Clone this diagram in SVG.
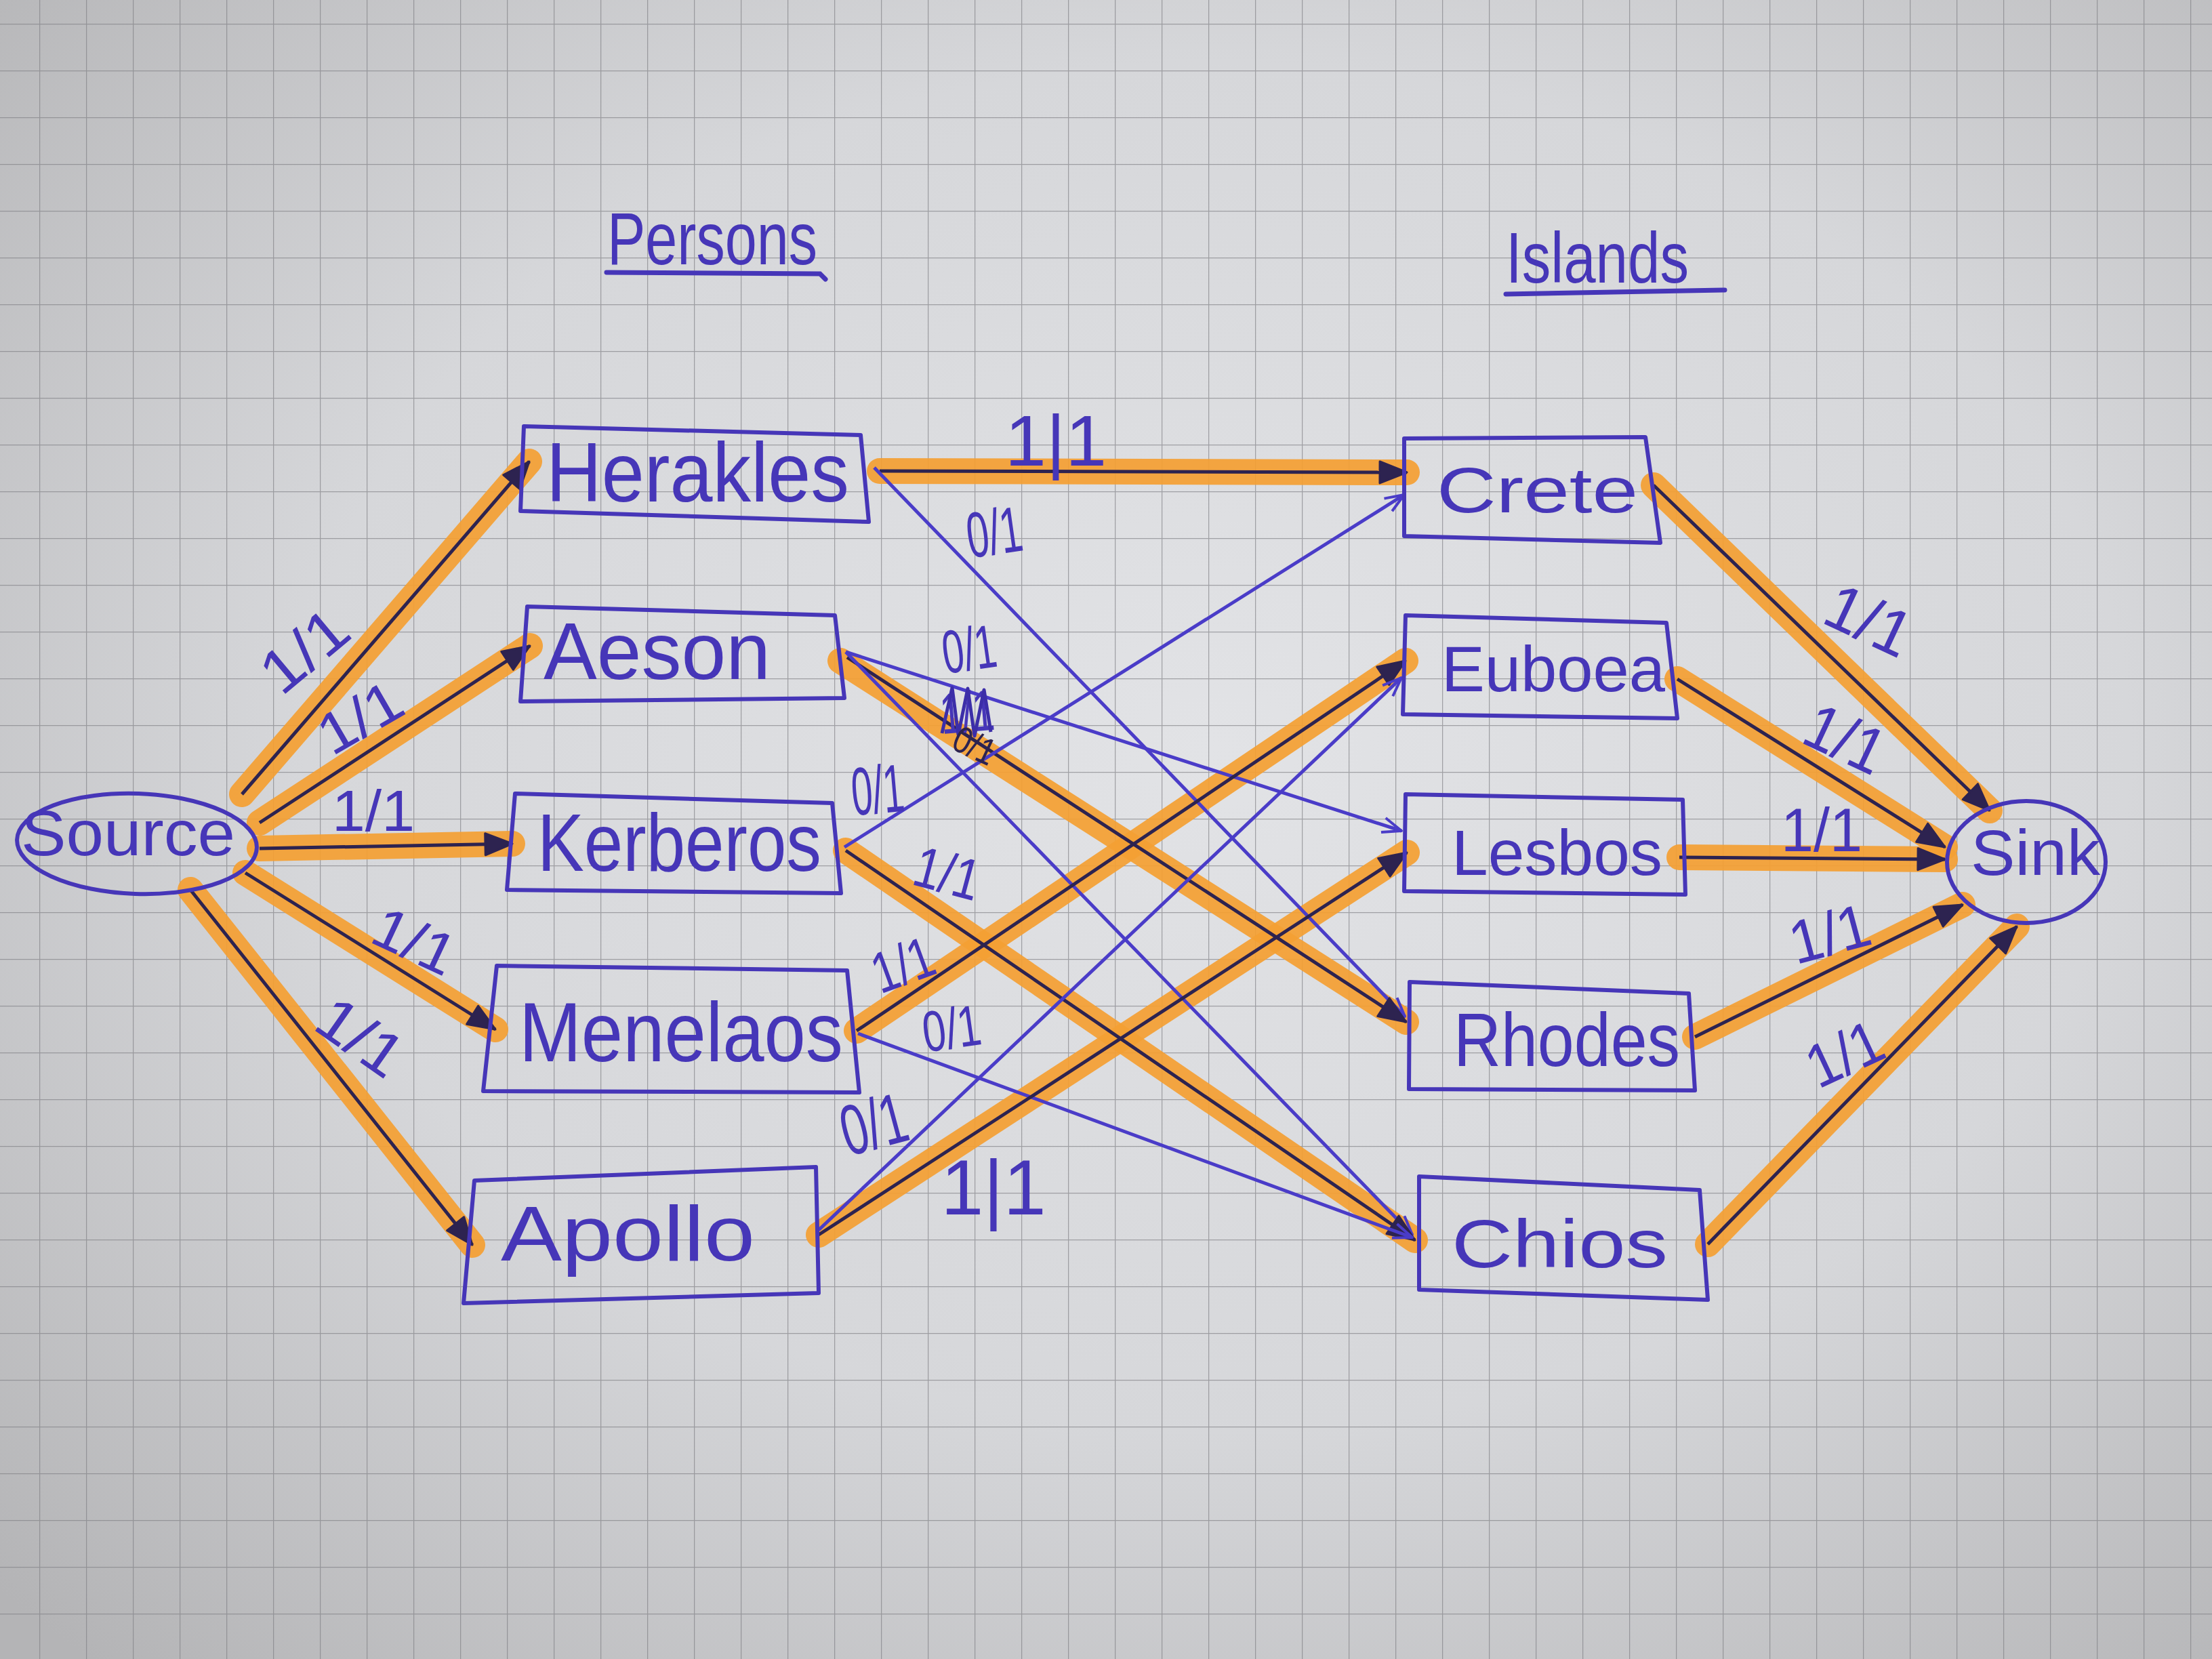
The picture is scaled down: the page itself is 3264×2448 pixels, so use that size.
<svg xmlns="http://www.w3.org/2000/svg" width="3264" height="2448" viewBox="0 0 3264 2448">
<defs>
<radialGradient id="paper" cx="0.55" cy="0.45" r="0.75">
<stop offset="0" stop-color="#e2e3e6"/>
<stop offset="0.55" stop-color="#d6d7da"/>
<stop offset="1" stop-color="#b4b4b6"/>
</radialGradient>
<pattern id="grid" patternUnits="userSpaceOnUse" x="58" y="35" width="69" height="69">
<path d="M0,0 L69,0 M0,0 L0,69" fill="none" stroke="#7e7e82" stroke-width="2.5" opacity="0.65"/>
</pattern>
<marker id="ah" markerUnits="userSpaceOnUse" markerWidth="46" markerHeight="40" refX="42" refY="18" orient="auto">
<path d="M2,2 L42,18 L2,34 Z" fill="#2d2350" stroke="#2d2350" stroke-width="3" stroke-linejoin="round"/>
</marker>
<marker id="ahb" markerUnits="userSpaceOnUse" markerWidth="34" markerHeight="30" refX="30" refY="13" orient="auto">
<path d="M2,2 L30,13 L2,24" fill="none" stroke="#4a3cc8" stroke-width="4" stroke-linejoin="round"/>
</marker>
</defs>
<style>
.box{fill:none;stroke:#4636b8;stroke-width:6;stroke-linejoin:round}
.nt{fill:#4636b8;font-family:"Liberation Sans","DejaVu Sans",sans-serif}
.title{fill:#4636b8;font-family:"Liberation Sans","DejaVu Sans",sans-serif}
.ul{fill:none;stroke:#4636b8;stroke-width:7;stroke-linecap:round}
.hl{stroke:#f5a033;stroke-width:38;stroke-linecap:round;opacity:0.92}
.ink{stroke:#2d2350;stroke-width:5;fill:none;marker-end:url(#ah)}
.thin{stroke:#4a3cc8;stroke-width:5;fill:none;marker-end:url(#ahb)}
.lbl{fill:#4636b8;font-family:"Liberation Sans","DejaVu Sans",sans-serif;text-anchor:middle}
.scr{fill:none;stroke:#3c2ea8;stroke-width:5;stroke-linejoin:round}
</style>
<rect x="0" y="0" width="3264" height="2448" fill="url(#paper)"/>
<rect x="0" y="0" width="3264" height="2448" fill="url(#grid)"/>

<g id="titles">
<text class="title" x="896" y="390" font-size="110" textLength="310" lengthAdjust="spacingAndGlyphs">Persons</text>
<path class="ul" d="M895,402 L1210,404 L1218,412"/>
<text class="title" x="2222" y="417" font-size="105" textLength="270" lengthAdjust="spacingAndGlyphs">Islands</text>
<path class="ul" d="M2222,434 L2545,428"/>
</g>

<g id="connectors">
<g id="highlights">
<line class="hl" x1="357" y1="1172" x2="781" y2="681"/>
<line class="hl" x1="383" y1="1214" x2="782" y2="953"/>
<line class="hl" x1="383" y1="1252" x2="756" y2="1245"/>
<line class="hl" x1="362" y1="1288" x2="731" y2="1519"/>
<line class="hl" x1="281" y1="1313" x2="697" y2="1837"/>
<line class="hl" x1="1298" y1="695" x2="2076" y2="697"/>
<line class="hl" x1="1240" y1="975" x2="2075" y2="1508"/>
<line class="hl" x1="1248" y1="1255" x2="2088" y2="1830"/>
<line class="hl" x1="1264" y1="1521" x2="2074" y2="975"/>
<line class="hl" x1="1208" y1="1822" x2="2076" y2="1258"/>
<line class="hl" x1="2440" y1="716" x2="2936" y2="1196"/>
<line class="hl" x1="2475" y1="1002" x2="2870" y2="1250"/>
<line class="hl" x1="2478" y1="1265" x2="2870" y2="1268"/>
<line class="hl" x1="2501" y1="1530" x2="2896" y2="1335"/>
<line class="hl" x1="2520" y1="1836" x2="2976" y2="1367"/>
</g>
<line class="ink" x1="357" y1="1172" x2="781" y2="681"/>
<line class="ink" x1="383" y1="1214" x2="782" y2="953"/>
<line class="ink" x1="383" y1="1252" x2="756" y2="1245"/>
<line class="ink" x1="362" y1="1288" x2="731" y2="1519"/>
<line class="ink" x1="281" y1="1313" x2="697" y2="1837"/>
<line class="ink" x1="1298" y1="695" x2="2076" y2="697"/>
<line class="thin" x1="1290" y1="690" x2="2073" y2="1500"/>
<line class="thin" x1="1248" y1="962" x2="2068" y2="1226"/>
<line class="ink" x1="1250" y1="970" x2="2075" y2="1508"/>
<line class="thin" x1="1248" y1="962" x2="2084" y2="1822"/>
<line class="thin" x1="1246" y1="1250" x2="2072" y2="730"/>
<line class="ink" x1="1248" y1="1255" x2="2088" y2="1830"/>
<line class="ink" x1="1264" y1="1521" x2="2074" y2="975"/>
<line class="thin" x1="1266" y1="1525" x2="2084" y2="1826"/>
<line class="ink" x1="1208" y1="1822" x2="2076" y2="1258"/>
<line class="thin" x1="1208" y1="1815" x2="2068" y2="1000"/>
<line class="ink" x1="2440" y1="716" x2="2936" y2="1196"/>
<line class="ink" x1="2475" y1="1002" x2="2870" y2="1250"/>
<line class="ink" x1="2478" y1="1265" x2="2870" y2="1268"/>
<line class="ink" x1="2501" y1="1530" x2="2896" y2="1335"/>
<line class="ink" x1="2520" y1="1836" x2="2976" y2="1367"/>

<g id="labels">
<text class="lbl" transform="translate(449,960) rotate(-40)" y="31" font-size="90" textLength="140" lengthAdjust="spacingAndGlyphs">1/1</text>
<text class="lbl" transform="translate(531,1058) rotate(-30)" y="30" font-size="85" textLength="130" lengthAdjust="spacingAndGlyphs">1/1</text>
<text class="lbl" transform="translate(551,1196)" y="30" font-size="85" textLength="122" lengthAdjust="spacingAndGlyphs">1/1</text>
<text class="lbl" transform="translate(612,1388) rotate(25)" y="30" font-size="85" textLength="125" lengthAdjust="spacingAndGlyphs">1/1</text>
<text class="lbl" transform="translate(532,1530) rotate(35)" y="31" font-size="90" textLength="135" lengthAdjust="spacingAndGlyphs">1/1</text>
<text class="lbl" transform="translate(1558,650)" y="37" font-size="105" textLength="150" lengthAdjust="spacingAndGlyphs">1|1</text>
<text class="lbl" transform="translate(1467,785) rotate(-8)" y="33" font-size="95" textLength="82" lengthAdjust="spacingAndGlyphs">0/1</text>
<text class="lbl" transform="translate(1430,958) rotate(-8)" y="31" font-size="90" textLength="80" lengthAdjust="spacingAndGlyphs">0/1</text>
<text class="lbl" transform="translate(1427,1050) rotate(-5)" y="30" font-size="85" textLength="80" lengthAdjust="spacingAndGlyphs">1/1</text>
<path class="scr" d="M1390,1082 L1405,1015 L1414,1084 L1428,1016 L1438,1086 L1452,1018 L1462,1080"/>
<text class="lbl" transform="translate(1438,1100) rotate(25)" y="19" font-size="55" textLength="63" lengthAdjust="spacingAndGlyphs" style="fill:#2d2350">0/1</text>
<text class="lbl" transform="translate(1295,1165) rotate(-5)" y="35" font-size="100" textLength="78" lengthAdjust="spacingAndGlyphs">0/1</text>
<text class="lbl" transform="translate(1398,1288) rotate(15)" y="30" font-size="85" textLength="98" lengthAdjust="spacingAndGlyphs">1/1</text>
<text class="lbl" transform="translate(1332,1423) rotate(-20)" y="30" font-size="85" textLength="92" lengthAdjust="spacingAndGlyphs">1/1</text>
<text class="lbl" transform="translate(1404,1517) rotate(-8)" y="30" font-size="85" textLength="86" lengthAdjust="spacingAndGlyphs">0/1</text>
<text class="lbl" transform="translate(1289,1658) rotate(-15)" y="37" font-size="105" textLength="98" lengthAdjust="spacingAndGlyphs">0/1</text>
<text class="lbl" transform="translate(1466,1752)" y="40" font-size="115" textLength="155" lengthAdjust="spacingAndGlyphs">1|1</text>
<text class="lbl" transform="translate(2758,915) rotate(25)" y="33" font-size="95" textLength="130" lengthAdjust="spacingAndGlyphs">1/1</text>
<text class="lbl" transform="translate(2723,1090) rotate(25)" y="33" font-size="95" textLength="120" lengthAdjust="spacingAndGlyphs">1/1</text>
<text class="lbl" transform="translate(2688,1225)" y="31" font-size="90" textLength="120" lengthAdjust="spacingAndGlyphs">1/1</text>
<text class="lbl" transform="translate(2700,1378) rotate(-15)" y="31" font-size="90" textLength="120" lengthAdjust="spacingAndGlyphs">1/1</text>
<text class="lbl" transform="translate(2722,1555) rotate(-25)" y="31" font-size="90" textLength="115" lengthAdjust="spacingAndGlyphs">1/1</text>
</g>
</g>

<g id="source">
<ellipse class="box" cx="202" cy="1245" rx="177" ry="74" transform="rotate(2 202 1245)"/>
<text class="nt" x="31" y="1262" font-size="95" textLength="316" lengthAdjust="spacingAndGlyphs">Source</text>
</g>
<g id="herakles">
<polygon class="box" points="773,629 1270,642 1282,770 768,754"/>
<text class="nt" x="806" y="740" font-size="125" textLength="447" lengthAdjust="spacingAndGlyphs">Herakles</text>
</g>
<g id="aeson">
<polygon class="box" points="778,895 1232,908 1246,1030 768,1035"/>
<text class="nt" x="802" y="1002" font-size="118" textLength="335" lengthAdjust="spacingAndGlyphs">Aeson</text>
</g>
<g id="kerberos">
<polygon class="box" points="760,1171 1228,1185 1241,1318 748,1313"/>
<text class="nt" x="793" y="1285" font-size="120" textLength="419" lengthAdjust="spacingAndGlyphs">Kerberos</text>
</g>
<g id="menelaos">
<polygon class="box" points="733,1425 1250,1432 1268,1612 713,1610"/>
<text class="nt" x="766" y="1566" font-size="125" textLength="478" lengthAdjust="spacingAndGlyphs">Menelaos</text>
</g>
<g id="apollo">
<polygon class="box" points="700,1742 1204,1722 1208,1908 684,1923"/>
<text class="nt" x="739" y="1860" font-size="115" textLength="375" lengthAdjust="spacingAndGlyphs">Apollo</text>
</g>
<g id="crete">
<polygon class="box" points="2072,647 2428,645 2450,801 2072,791"/>
<text class="nt" x="2120" y="756" font-size="95" textLength="297" lengthAdjust="spacingAndGlyphs">Crete</text>
</g>
<g id="euboea">
<polygon class="box" points="2074,908 2459,919 2475,1060 2070,1054"/>
<text class="nt" x="2127" y="1020" font-size="95" textLength="330" lengthAdjust="spacingAndGlyphs">Euboea</text>
</g>
<g id="lesbos">
<polygon class="box" points="2074,1172 2483,1180 2487,1320 2072,1315"/>
<text class="nt" x="2142" y="1291" font-size="95" textLength="311" lengthAdjust="spacingAndGlyphs">Lesbos</text>
</g>
<g id="rhodes">
<polygon class="box" points="2080,1449 2492,1466 2501,1609 2079,1607"/>
<text class="nt" x="2145" y="1573" font-size="112" textLength="334" lengthAdjust="spacingAndGlyphs">Rhodes</text>
</g>
<g id="chios">
<polygon class="box" points="2094,1736 2508,1756 2520,1918 2094,1903"/>
<text class="nt" x="2142" y="1870" font-size="100" textLength="319" lengthAdjust="spacingAndGlyphs">Chios</text>
</g>
<g id="sink">
<ellipse class="box" cx="2990" cy="1272" rx="117" ry="90"/>
<text class="nt" x="2908" y="1291" font-size="95" textLength="191" lengthAdjust="spacingAndGlyphs">Sink</text>
</g>
</svg>
